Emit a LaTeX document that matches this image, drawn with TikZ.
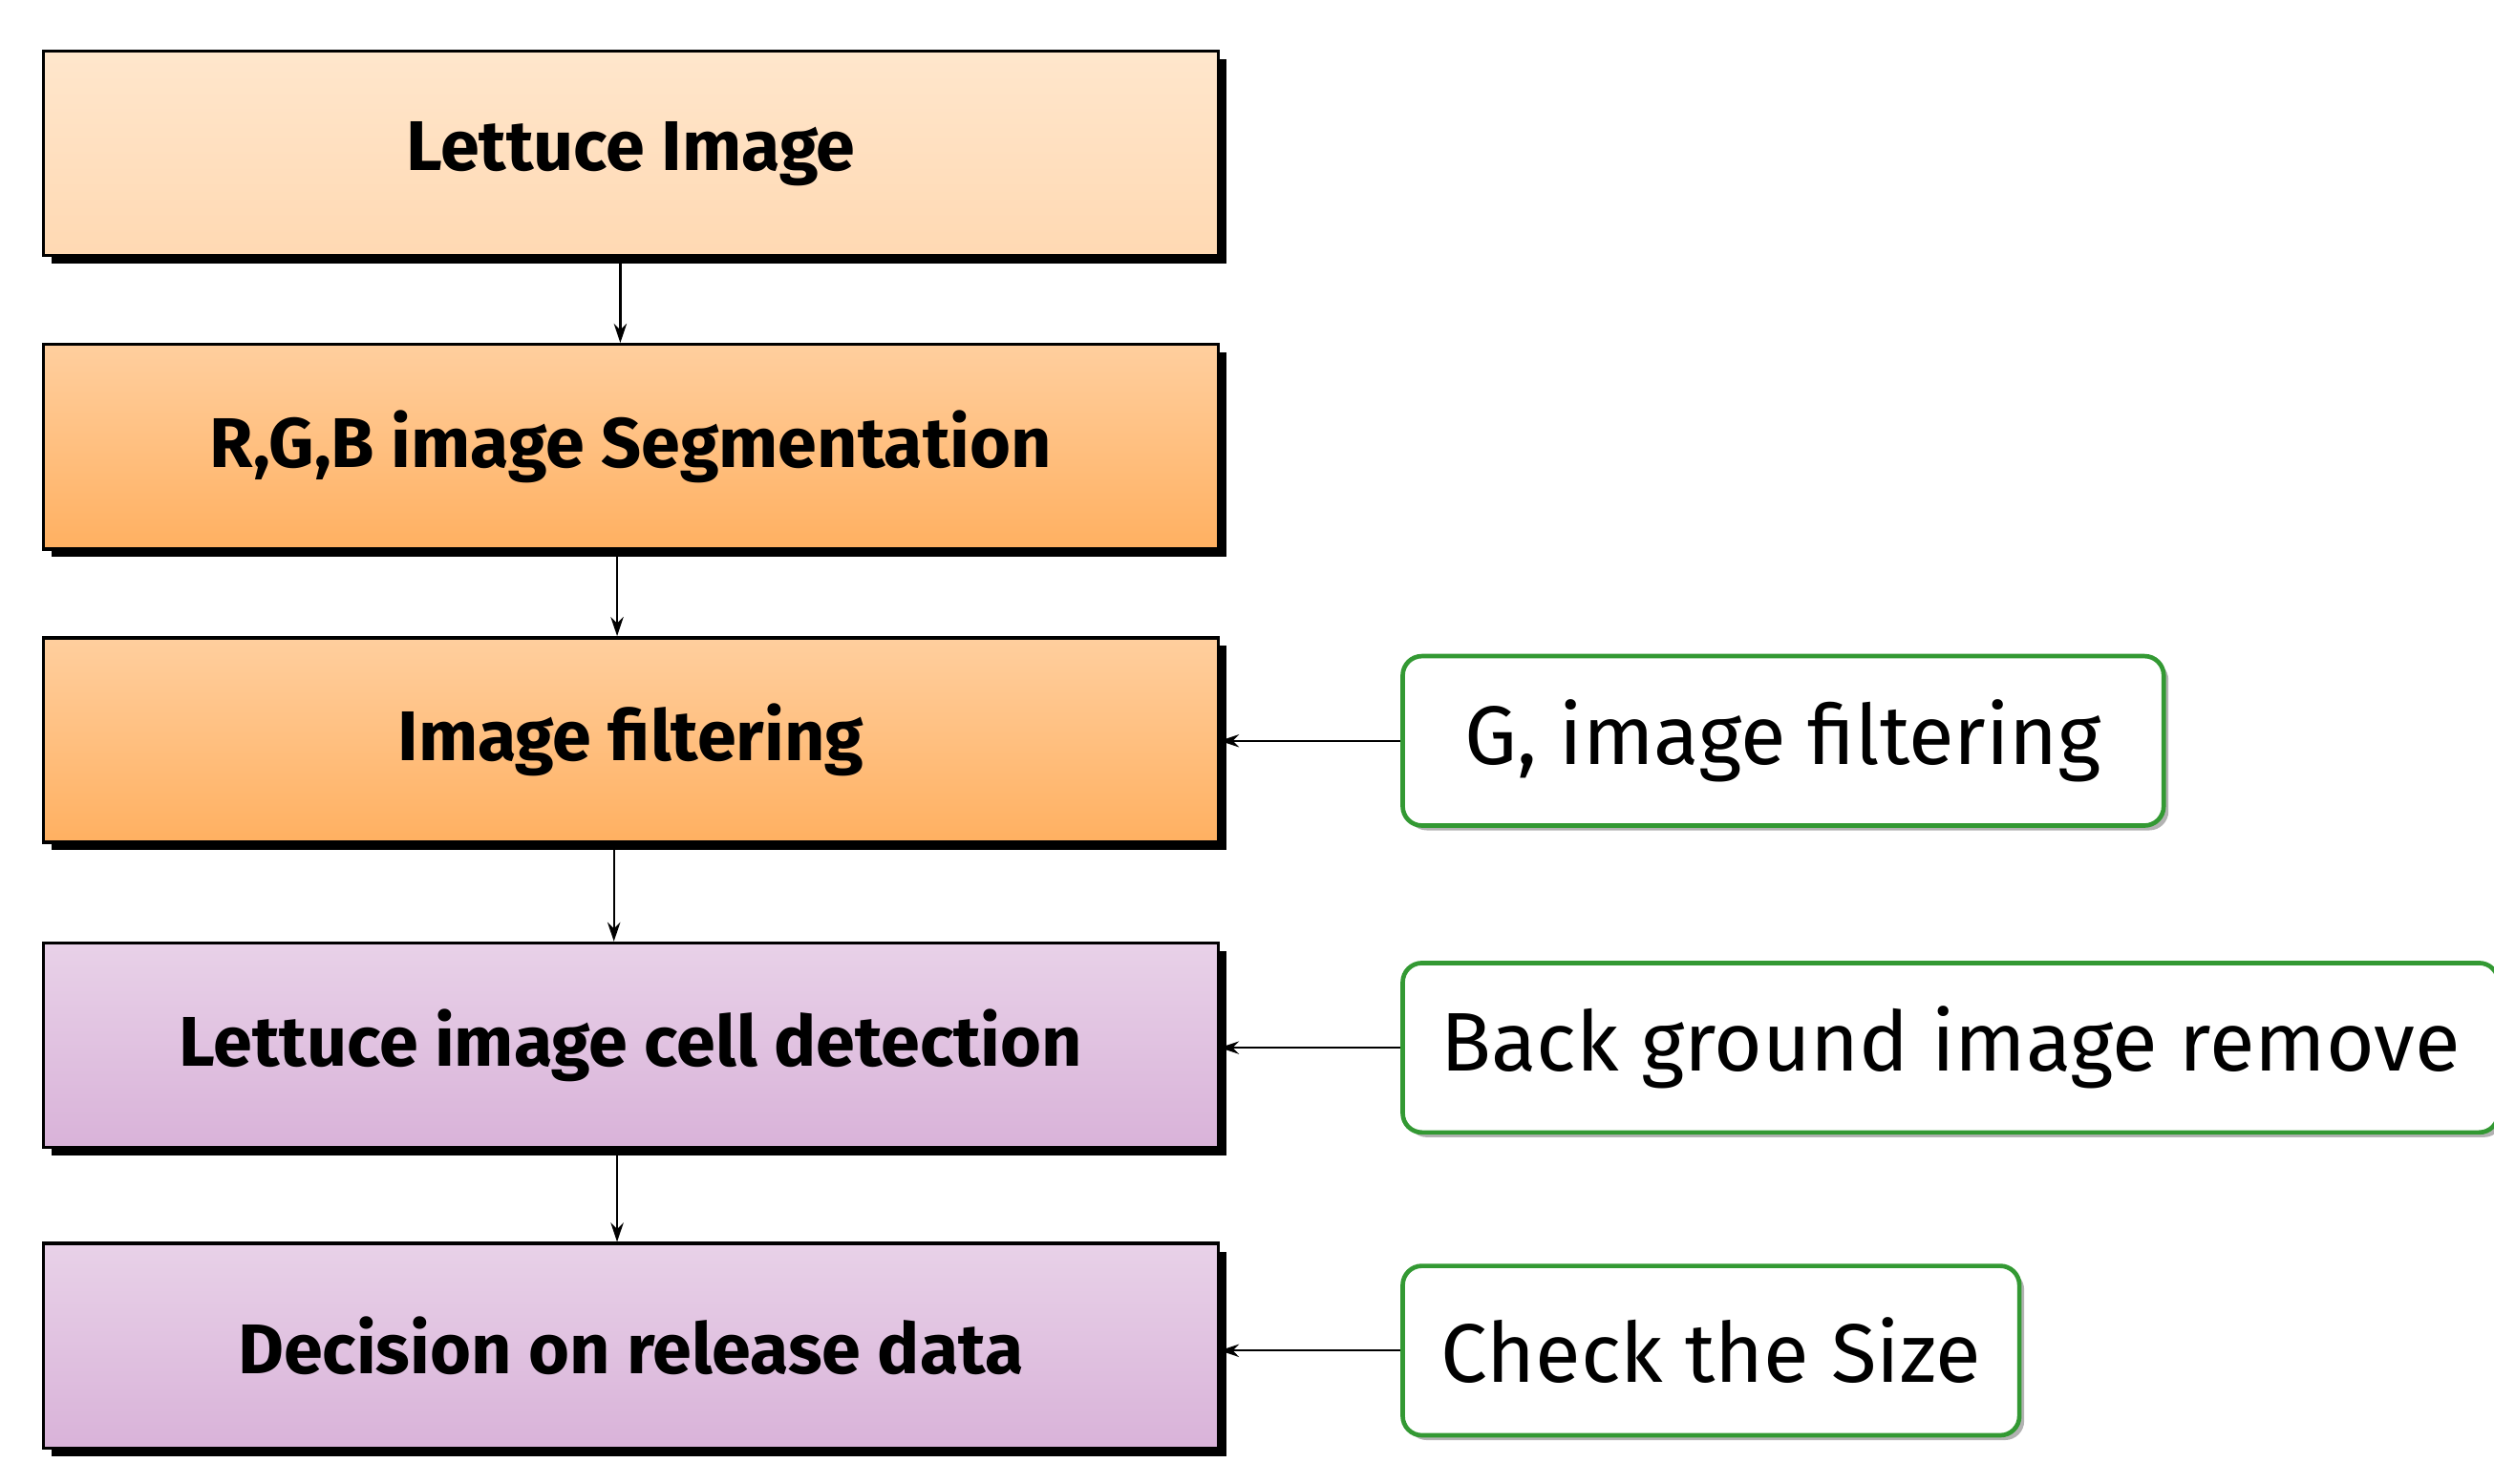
\documentclass[tikz,border=0pt]{standalone}
\usepackage{fontspec}
\setmainfont{Fira Sans}
\usetikzlibrary{arrows.meta,shadows}
\begin{document}
\begin{tikzpicture}[x=0.5pt,y=-0.5pt,
  stepbox/.style={draw=black,line width=1pt,minimum width=367.5pt,minimum height=64pt,inner sep=0pt,
    font=\fontsize{22}{26}\selectfont\bfseries,
    drop shadow={shadow xshift=2.5pt,shadow yshift=-2.5pt,fill=black,opacity=1}},
  peach/.style={top color=yellow!3!orange!20!white,bottom color=orange!30!white},
  orng/.style={top color=orange!38!white,bottom color=orange!62!white},
  purp/.style={top color=violet!18!white,bottom color=violet!30!white},
  note/.style={draw=green!50!black!80,line width=1.4pt,rounded corners=6pt,fill=white,
    minimum height=53pt,inner xsep=12pt,anchor=west,
    font=\fontsize{26}{30}\selectfont,
    drop shadow={shadow xshift=1.5pt,shadow yshift=-1.5pt,fill=gray!60,opacity=1}},
  arr/.style={-{Stealth[length=6pt,width=4pt]},line width=0.7pt}]
\useasboundingbox (0,0) rectangle (1560,928);
\node[stepbox,peach] (a) at (394.5,96) {Lettuce Image};
\node[stepbox,orng] (b) at (394.5,279.5) {R,G,B image Segmentation};
\node[stepbox,orng] (c) at (394.5,463) {Image filtering};
\node[stepbox,purp] (d) at (394.5,654) {Lettuce image cell detection};
\node[stepbox,purp] (e) at (394.5,842) {Decision on release data};
\node[note,minimum width=238pt] (g) at (876,463.5) {G, image filtering};
\node[note,minimum width=328pt] (h) at (876,655.5) {Back ground image remove};
\node[note,minimum width=191pt] (k) at (876,845) {Check the Size};
\draw[arr] (a.south -| 388,0) -- (b.north -| 388,0);
\draw[arr] (b.south -| 386,0) -- (c.north -| 386,0);
\draw[arr] (c.south -| 384,0) -- (d.north -| 384,0);
\draw[arr] (d.south -| 386,0) -- (e.north -| 386,0);
\draw[arr] (g.west) -- (g.west -| c.east);
\draw[arr] (h.west) -- (h.west -| d.east);
\draw[arr] (k.west) -- (k.west -| e.east);
\end{tikzpicture}
\end{document}
